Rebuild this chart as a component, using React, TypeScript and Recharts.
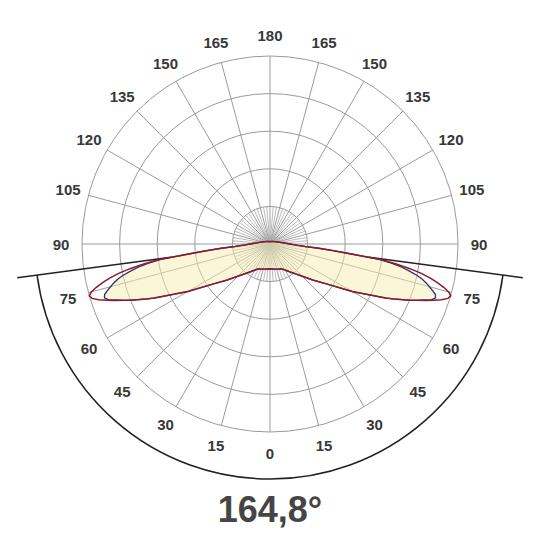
import React from 'react'
import { RadarChart, Radar, PolarGrid, PolarAngleAxis, PolarRadiusAxis, Customized } from 'recharts'

// half profile (gamma 0..180), symmetric for the other side
const gammas = [0, 10, 20, 25, 30, 35, 40, 45, 50, 55, 60, 65, 66, 68, 69, 70, 71, 72, 73, 74, 75, 76, 77, 78, 79, 80, 81, 82, 83, 84, 85, 86, 88, 90, 95, 105, 120, 150, 180]
const redValues = [66, 68, 71, 73, 80, 90, 103, 121, 149, 186, 253, 340, 359, 399, 418, 439, 460, 479, 495, 500, 492, 476, 457, 436, 410, 378, 340, 298, 218, 170, 130, 93, 66, 53, 35, 21, 13, 8, 6]
const blueValues = [66, 68, 71, 73, 80, 90, 103, 121, 149, 186, 253, 340, 359, 399, 418, 434, 455, 463, 460, 450, 439, 428, 415, 399, 378, 356, 327, 293, 218, 170, 130, 93, 66, 53, 35, 21, 13, 8, 6]
const angleTicks = [0, 15, 30, 45, 60, 75, 90, 105, 120, 135, 150, 165, 180, 195, 210, 225, 240, 255, 270, 285, 300, 315, 330, 345]
const beamAngle = 164.8
const beamLabel = '164,8°'

const MAX_VALUE = 500
const CX = 270
const CY = 244
const R = 188
const LABEL_R = 209
const ARC_R = 235
const LINE_R = 255

const data = [
  ...gammas.map((g, i) => ({ gamma: g, red: redValues[i], blue: blueValues[i] })),
  ...gammas
    .map((g, i) => ({ gamma: 360 - g, red: redValues[i], blue: blueValues[i] }))
    .filter(d => d.gamma > 180 && d.gamma < 360)
    .reverse(),
]

const ringRadii = [1, 2, 3, 4, 5].map(k => (R * k) / 5)
const spokeAngles = Array.from({ length: 24 }, (_, i) => i * 15)

// screen point for a gamma angle (0 = down, 90 = right)
const pt = (g: number, r: number) => ({
  x: CX + r * Math.sin((g * Math.PI) / 180),
  y: CY + r * Math.cos((g * Math.PI) / 180),
})

// red intensity at half beam angle, to start the beam lines on the curve
const redAt = (g: number) => {
  for (let i = 0; i < gammas.length - 1; i++) {
    if (g >= gammas[i] && g <= gammas[i + 1]) {
      const t = (g - gammas[i]) / (gammas[i + 1] - gammas[i])
      return redValues[i] + t * (redValues[i + 1] - redValues[i])
    }
  }
  return 0
}

const AngleTick = (props: any) => {
  const v = Number(props.payload?.value)
  const p = pt(v, LABEL_R)
  const label = v <= 180 ? v : 360 - v
  return (
    <text x={p.x} y={p.y} textAnchor="middle" dominantBaseline="central"
      fontFamily="'Liberation Sans', Arial, sans-serif" fontWeight="bold" fontSize={15} fill="#383838">
      {label}
    </text>
  )
}

const Overlay = () => {
  const half = beamAngle / 2
  const startR = (redAt(half) / MAX_VALUE) * R
  const a1 = pt(-half, ARC_R)
  const a2 = pt(half, ARC_R)
  const fine = Array.from({ length: 72 }, (_, i) => i * 5).filter(a => a % 15 !== 0)
  return (
    <g>
      {fine.map(a => {
        const p = pt(a, ringRadii[0])
        return <line key={a} x1={CX} y1={CY} x2={p.x} y2={p.y} stroke="#a8a8a8" strokeWidth={0.8} />
      })}
      {[-half, half].map(g => {
        const s = pt(g, startR)
        const e = pt(g, LINE_R)
        return <line key={g} x1={s.x} y1={s.y} x2={e.x} y2={e.y} stroke="#222" strokeWidth={1.5} />
      })}
      <path d={`M ${a1.x} ${a1.y} A ${ARC_R} ${ARC_R} 0 0 0 ${a2.x} ${a2.y}`} fill="none" stroke="#222" strokeWidth={1.5} />
      <text x={CX} y={522} textAnchor="middle" fontFamily="'Liberation Sans', Arial, sans-serif"
        fontWeight="bold" fontSize={36} fill="#454545">
        {beamLabel}
      </text>
    </g>
  )
}

export default function App() {
  return (
    <div style={{ position: 'absolute', left: 0, top: 0, width: 540, height: 540, background: '#fff' }}>
      <RadarChart width={540} height={540} data={data} cx={CX} cy={CY} outerRadius={R}
        startAngle={-90} endAngle={270} margin={{ top: 0, right: 0, bottom: 0, left: 0 }}>
        <PolarGrid gridType="circle" polarAngles={spokeAngles} polarRadius={ringRadii} stroke="#9b9b9b" strokeWidth={1} />
        <Customized component={Overlay} />
        <PolarAngleAxis dataKey="gamma" type="number" domain={[0, 360]} ticks={angleTicks}
          axisLine={false} tickLine={false} tick={<AngleTick />} />
        <PolarRadiusAxis domain={[0, MAX_VALUE]} tick={false} axisLine={false} />
        <Radar dataKey="blue" stroke="#2b306e" strokeWidth={1.3} fill="#f8eeb0" fillOpacity={0.5} isAnimationActive={false} />
        <Radar dataKey="red" stroke="#8b1c2d" strokeWidth={1.5} fill="none" fillOpacity={0} isAnimationActive={false} />
      </RadarChart>
    </div>
  )
}
